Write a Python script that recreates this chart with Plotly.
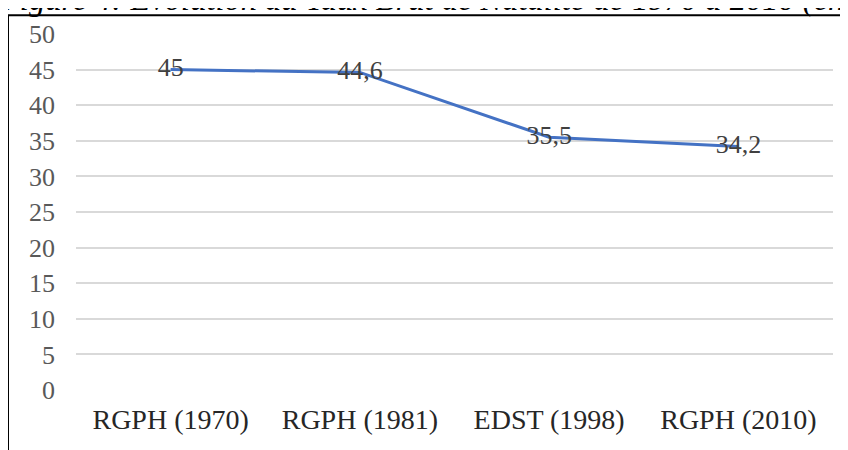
import plotly.graph_objects as go

categories = ["RGPH (1970)", "RGPH (1981)", "EDST (1998)", "RGPH (2010)"]
values = [45, 44.6, 35.5, 34.2]
y_ticks = [0, 5, 10, 15, 20, 25, 30, 35, 40, 45, 50]
title_text = "Figure 4: Evolution du Taux Brut de Natalité de 1970 à 2010 (en"

labels = [str(v).replace(".", ",") if v != int(v) else str(int(v)) for v in values]

# page body has an 8px margin; figure is sized to fill the remaining window
OFF = 8
W, H = 848 - OFF, 450 - OFF
L, R, T, B = 76 - OFF, 15, 29 - OFF, 60
PW, PH = W - L - R, H - T - B


def px_x(p):  # page x -> paper x
    return (p - OFF - L) / PW


def px_y(p):  # page y -> paper y
    return 1 - (p - OFF - T) / PH


fig = go.Figure()
fig.add_trace(go.Scatter(
    x=categories, y=values, mode="lines+text",
    line=dict(color="#4472C4", width=3),
    text=labels, textposition="middle center",
    textfont=dict(family="Liberation Serif", size=26, color="#404040"),
    hoverinfo="skip", showlegend=False,
))

fig.update_layout(
    width=W, height=H,
    margin=dict(l=L, r=R, t=T, b=B),
    paper_bgcolor="white", plot_bgcolor="white",
    font=dict(family="Liberation Serif"),
    xaxis=dict(
        type="category", range=[-0.5, 3.5],
        showgrid=False, showline=False, zeroline=False, ticks="",
        tickfont=dict(family="Liberation Serif", size=28, color="#262626"),
        ticklabelstandoff=10,
    ),
    yaxis=dict(
        range=[0, 50], tickvals=y_ticks,
        showgrid=True, gridcolor="#d9d9d9", gridwidth=1.5,
        showline=False, zeroline=False, ticks="",
        tickfont=dict(family="Liberation Serif", size=26, color="#595959"),
        ticklabelstandoff=20,
    ),
    shapes=[
        dict(type="line", xref="paper", yref="paper",
             x0=px_x(8), x1=px_x(850), y0=px_y(10), y1=px_y(10),
             line=dict(color="black", width=2)),
        dict(type="line", xref="paper", yref="paper",
             x0=px_x(8), x1=px_x(8), y0=px_y(10), y1=px_y(452),
             line=dict(color="black", width=2)),
    ],
    annotations=[
        dict(text=title_text, xref="paper", yref="paper",
             x=px_x(-3), xanchor="left",
             y=px_y(14), yanchor="bottom",
             showarrow=False,
             font=dict(family="Liberation Serif", size=32.5, color="black", style="italic")),
    ],
)

fig.write_html("out.html")
